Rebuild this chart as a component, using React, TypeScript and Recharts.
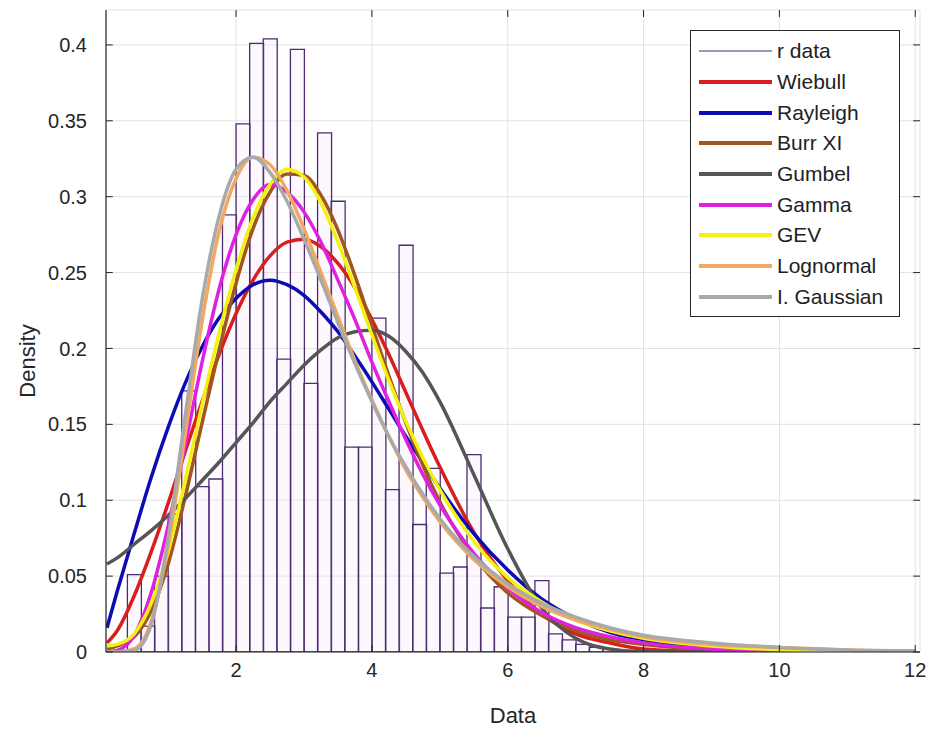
import {
  ComposedChart,
  Bar,
  Line,
  XAxis,
  YAxis,
  CartesianGrid,
  ReferenceLine,
  Legend,
  Label,
} from 'recharts'

// histogram bins (width 0.2), centres and density heights
const BIN_CENTERS = [
  0.5, 0.7, 0.9, 1.1, 1.3, 1.5, 1.7, 1.9, 2.1, 2.3, 2.5, 2.7, 2.9, 3.1, 3.3, 3.5, 3.7, 3.9,
  4.1, 4.3, 4.5, 4.7, 4.9, 5.1, 5.3, 5.5, 5.7, 5.9, 6.1, 6.3, 6.5, 6.7, 6.9, 7.1, 7.3, 7.5,
]
const BIN_DENSITY = [
  0.051, 0.017, 0.05, 0.091, 0.172, 0.109, 0.114, 0.288, 0.348, 0.401, 0.404, 0.193, 0.397,
  0.177, 0.342, 0.297, 0.135, 0.135, 0.22, 0.107, 0.268, 0.084, 0.121, 0.052, 0.056, 0.13,
  0.029, 0.043, 0.023, 0.023, 0.047, 0.012, 0.008, 0.005, 0.003, 0.002,
]

// fitted pdf curves, sampled at CURVE_X
const CURVE_X = [
  0.1, 0.25, 0.5, 0.75, 1, 1.25, 1.5, 1.75, 2, 2.25, 2.5, 2.75, 3, 3.25, 3.5, 3.75, 4, 4.25,
  4.5, 4.75, 5, 5.5, 6, 6.5, 7, 7.5, 8, 9, 10, 11, 12,
]
const WEIBULL = [
  0.006, 0.014, 0.037, 0.066, 0.098, 0.132, 0.165, 0.196, 0.223, 0.245, 0.261, 0.27, 0.272,
  0.267, 0.256, 0.24, 0.219, 0.196, 0.171, 0.146, 0.122, 0.079, 0.047, 0.025, 0.012, 0.006,
  0.002, 0.0003, 0, 0, 0,
]
const RAYLEIGH = [
  0.016, 0.04, 0.078, 0.115, 0.148, 0.177, 0.201, 0.22, 0.233, 0.242, 0.245, 0.242, 0.235,
  0.224, 0.211, 0.195, 0.178, 0.16, 0.142, 0.125, 0.108, 0.078, 0.054, 0.035, 0.022, 0.013,
  0.008, 0.002, 0.0005, 0, 0,
]
const BURR = [
  0.002, 0.004, 0.01, 0.027, 0.058, 0.102, 0.151, 0.199, 0.243, 0.279, 0.303, 0.315, 0.314,
  0.301, 0.278, 0.248, 0.215, 0.182, 0.151, 0.123, 0.099, 0.063, 0.039, 0.024, 0.014, 0.008,
  0.005, 0.0015, 0.0004, 0.0001, 0,
]
const GUMBEL = [
  0.058, 0.062, 0.071, 0.08, 0.09, 0.101, 0.113, 0.125, 0.138, 0.151, 0.165, 0.177, 0.189,
  0.199, 0.207, 0.211, 0.212, 0.208, 0.198, 0.184, 0.165, 0.117, 0.068, 0.029, 0.009, 0.002,
  0.0001, 0, 0, 0, 0,
]
const GAMMA = [
  0, 0.001, 0.011, 0.039, 0.083, 0.136, 0.191, 0.239, 0.275, 0.298, 0.308, 0.303, 0.29, 0.27,
  0.245, 0.219, 0.191, 0.165, 0.14, 0.117, 0.097, 0.065, 0.042, 0.026, 0.016, 0.01, 0.006,
  0.002, 0.0006, 0.0002, 0.0001,
]
const GEV = [
  0.004, 0.005, 0.012, 0.032, 0.066, 0.113, 0.163, 0.21, 0.252, 0.286, 0.308, 0.318, 0.313,
  0.296, 0.27, 0.24, 0.209, 0.179, 0.152, 0.128, 0.107, 0.073, 0.049, 0.033, 0.021, 0.014,
  0.009, 0.004, 0.0015, 0.0006, 0.0002,
]
const LOGNORMAL = [
  0, 0, 0.002, 0.02, 0.07, 0.143, 0.218, 0.277, 0.312, 0.326, 0.321, 0.304, 0.279, 0.25, 0.221,
  0.192, 0.166, 0.142, 0.12, 0.102, 0.086, 0.061, 0.043, 0.03, 0.021, 0.015, 0.01, 0.005,
  0.003, 0.0014, 0.0008,
]
const INV_GAUSSIAN = [
  0, 0, 0.001, 0.018, 0.075, 0.155, 0.232, 0.287, 0.318, 0.326, 0.316, 0.297, 0.272, 0.245,
  0.217, 0.19, 0.165, 0.142, 0.122, 0.104, 0.088, 0.063, 0.045, 0.032, 0.023, 0.016, 0.011,
  0.006, 0.003, 0.0014, 0.0007,
]

const X_TICKS = [2, 4, 6, 8, 10, 12]
const Y_TICKS = [0, 0.05, 0.1, 0.15, 0.2, 0.25, 0.3, 0.35, 0.4]

const X_MIN = 0.085
const X_MAX = 12.07
const Y_MAX = 0.423
const TICK_X = 0.1
const TICK_Y = 0.0046

const FONT = '"Liberation Sans", Arial, Helvetica, sans-serif'
const AXIS_COLOR = '#262626'
const BAR_EDGE = '#4b2c73'

const SERIES = [
  { key: 'weibull', name: 'Wiebull', values: WEIBULL, color: '#d81e1e' },
  { key: 'rayleigh', name: 'Rayleigh', values: RAYLEIGH, color: '#0c0cb4' },
  { key: 'burr', name: 'Burr XI', values: BURR, color: '#a0561c' },
  { key: 'gumbel', name: 'Gumbel', values: GUMBEL, color: '#555555' },
  { key: 'gamma', name: 'Gamma', values: GAMMA, color: '#e020e0' },
  { key: 'gev', name: 'GEV', values: GEV, color: '#f2f20e' },
  { key: 'lognormal', name: 'Lognormal', values: LOGNORMAL, color: '#f0a862' },
  { key: 'invgauss', name: 'I. Gaussian', values: INV_GAUSSIAN, color: '#a9a9a9' },
]

const binData = BIN_CENTERS.map((x, i) => ({ x, density: BIN_DENSITY[i] }))
const curveData = CURVE_X.map((x, i) => {
  const row: Record<string, number> = { x }
  SERIES.forEach((s) => {
    row[s.key] = s.values[i]
  })
  return row
})

const legendItems = [
  { name: 'r data', color: BAR_EDGE, width: 1.2 },
  ...SERIES.map((s) => ({ name: s.name, color: s.color, width: 4 })),
]

function LegendBox() {
  return (
    <div
      style={{
        border: `1px solid ${AXIS_COLOR}`,
        background: '#fff',
        padding: '5px 0 4px 0',
        width: 208,
        fontFamily: FONT,
      }}
    >
      {legendItems.map((item) => (
        <div key={item.name} style={{ display: 'flex', alignItems: 'center', height: 30.7 }}>
          <svg width={82} height={10} style={{ flex: 'none' }}>
            <line x1={8} x2={81} y1={5} y2={5} stroke={item.color} strokeWidth={item.width} />
          </svg>
          <span style={{ marginLeft: 4, fontSize: 21, color: '#222', whiteSpace: 'nowrap' }}>
            {item.name}
          </span>
        </div>
      ))}
    </div>
  )
}

function DensityLabel() {
  return (
    <text
      x={27}
      y={361}
      transform="rotate(-90, 27, 361)"
      textAnchor="middle"
      dominantBaseline="central"
      fontSize={22}
      fontFamily={FONT}
      fill={AXIS_COLOR}
    >
      Density
    </text>
  )
}

export default function App() {
  return (
    <div
      style={{
        position: 'absolute',
        left: 0,
        top: 0,
        width: 931,
        height: 732,
        background: '#fff',
      }}
    >
      <ComposedChart
        width={931}
        height={732}
        data={binData}
        margin={{ top: 10, right: 11, bottom: 0, left: 0 }}
        barCategoryGap={0}
        barGap={0}
      >
        <CartesianGrid stroke="#e2e2e2" strokeWidth={1} />
        <XAxis
          dataKey="x"
          type="number"
          domain={[X_MIN, X_MAX]}
          ticks={X_TICKS}
          allowDataOverflow
          height={80}
          tickSize={0}
          tickMargin={11}
          axisLine={{ stroke: AXIS_COLOR, strokeWidth: 1.2 }}
          tick={{ fill: AXIS_COLOR, fontSize: 20, fontFamily: FONT }}
        >
          <Label
            value="Data"
            position="insideBottom"
            offset={9}
            fill={AXIS_COLOR}
            fontSize={22}
            fontFamily={FONT}
          />
        </XAxis>
        {/* top box edge; the fitted curves hang on this axis so the bar band stays one bin wide */}
        <XAxis
          xAxisId="top"
          orientation="top"
          dataKey="x"
          type="number"
          domain={[X_MIN, X_MAX]}
          allowDataOverflow
          height={0}
          tick={false}
          tickLine={false}
          axisLine={{ stroke: AXIS_COLOR, strokeWidth: 1.2 }}
        />
        <YAxis
          type="number"
          domain={[0, Y_MAX]}
          ticks={Y_TICKS}
          allowDataOverflow
          width={106}
          tickSize={0}
          tickMargin={19}
          axisLine={{ stroke: AXIS_COLOR, strokeWidth: 1.2 }}
          tick={{ fill: AXIS_COLOR, fontSize: 20, fontFamily: FONT }}
          label={<DensityLabel />}
        />
        <YAxis
          yAxisId="right"
          orientation="right"
          type="number"
          domain={[0, Y_MAX]}
          allowDataOverflow
          width={0}
          tick={false}
          tickLine={false}
          axisLine={{ stroke: AXIS_COLOR, strokeWidth: 1.2 }}
        />
        <Bar
          dataKey="density"
          fill="#f8e8fa"
          fillOpacity={0.3}
          stroke={BAR_EDGE}
          strokeWidth={1.3}
          isAnimationActive={false}
        />
        {SERIES.map((s) => (
          <Line
            key={s.key}
            xAxisId="top"
            data={curveData}
            dataKey={s.key}
            type="monotone"
            stroke={s.color}
            strokeWidth={3.5}
            dot={false}
            activeDot={false}
            isAnimationActive={false}
          />
        ))}
        {X_TICKS.map((t) => (
          <ReferenceLine
            key={`xb${t}`}
            segment={[
              { x: t, y: 0 },
              { x: t, y: TICK_Y },
            ]}
            stroke={AXIS_COLOR}
          />
        ))}
        {X_TICKS.map((t) => (
          <ReferenceLine
            key={`xt${t}`}
            segment={[
              { x: t, y: Y_MAX - TICK_Y },
              { x: t, y: Y_MAX },
            ]}
            stroke={AXIS_COLOR}
          />
        ))}
        {Y_TICKS.map((t) => (
          <ReferenceLine
            key={`yl${t}`}
            segment={[
              { x: X_MIN, y: t },
              { x: X_MIN + TICK_X, y: t },
            ]}
            stroke={AXIS_COLOR}
          />
        ))}
        {Y_TICKS.map((t) => (
          <ReferenceLine
            key={`yr${t}`}
            segment={[
              { x: X_MAX - TICK_X, y: t },
              { x: X_MAX, y: t },
            ]}
            stroke={AXIS_COLOR}
          />
        ))}
        <Legend
          layout="vertical"
          align="center"
          verticalAlign="middle"
          wrapperStyle={{ left: 690, top: 30, width: 210, right: 'auto', bottom: 'auto' }}
          content={() => <LegendBox />}
        />
      </ComposedChart>
    </div>
  )
}
